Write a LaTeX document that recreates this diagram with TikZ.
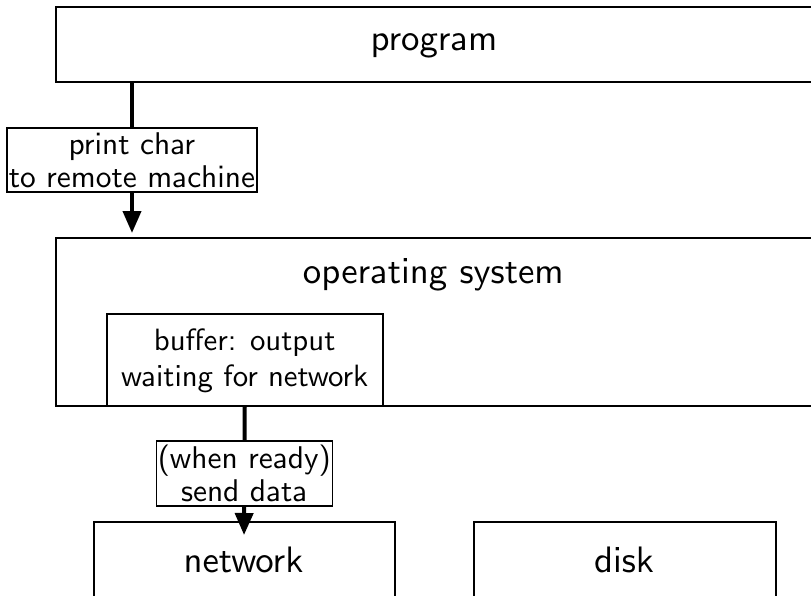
\documentclass[tikz,border=0pt]{standalone}
\usetikzlibrary{arrows.meta}
\font\sfbig=cmss10 at 36.8pt
\font\sfsmall=cmss10 at 31.4pt
\font\sfbuf=cmss10 at 30.8pt
\begin{document}
\begin{tikzpicture}[x=1pt,y=-1pt,
  bigbox/.style={draw, line width=2pt, inner sep=0pt},
  bigtext/.style={font=\sfbig, inner sep=0pt, anchor=base},
  smallbox/.style={draw, line width=1.5pt, fill=white, align=center, inner xsep=1pt, inner ysep=0pt,
    font={\fontsize{31.4}{33}\selectfont\sfsmall}},
  flow/.style={line width=4pt, -{Triangle[length=22pt,width=18pt]}}]
\path[use as bounding box] (0,0) rectangle (811,595);
\clip (0,0) rectangle (811,595);
% program
\node[bigbox, anchor=north west, minimum width=760pt, minimum height=75pt] (program) at (55,6) {};
\node[bigtext] (progtext) at (434,50) {program};
% operating system
\node[bigbox, anchor=north west, minimum width=760pt, minimum height=168pt] (os) at (55,237) {};
\node[bigtext] (ostext) at (433.4,283.3) {operating system};
% buffer
\node[draw, line width=1.5pt, anchor=north west, minimum width=276pt, minimum height=92pt, inner sep=0pt,
  align=center, font={\fontsize{30.8}{36}\selectfont\sfbuf}, text depth=4pt] (buffer) at (106,313)
  {buffer: output\\waiting for network};
% devices
\node[bigbox, anchor=north west, minimum width=301pt, minimum height=120pt] (network) at (93,521) {};
\node[bigtext] (nettext) at (243.5,572) {network};
\node[bigbox, anchor=north west, minimum width=302pt, minimum height=120pt] (disk) at (473,521) {};
\node[bigtext] (disktext) at (624,572) {disk};
% connectors
\coordinate (c1) at (132,0);
\coordinate (c2) at (244,540);
\draw[flow, shorten >=4pt] (program.south -| c1) -- node[smallbox, minimum width=250pt, minimum height=64pt] (lab1)
  {print char\\to remote machine} (os.north -| c1);
\draw[flow, shorten >=5pt] (buffer.south) -- node[smallbox, minimum width=176pt, minimum height=65pt] (lab2)
  {(when ready)\\send data} (c2);
\end{tikzpicture}
\end{document}
